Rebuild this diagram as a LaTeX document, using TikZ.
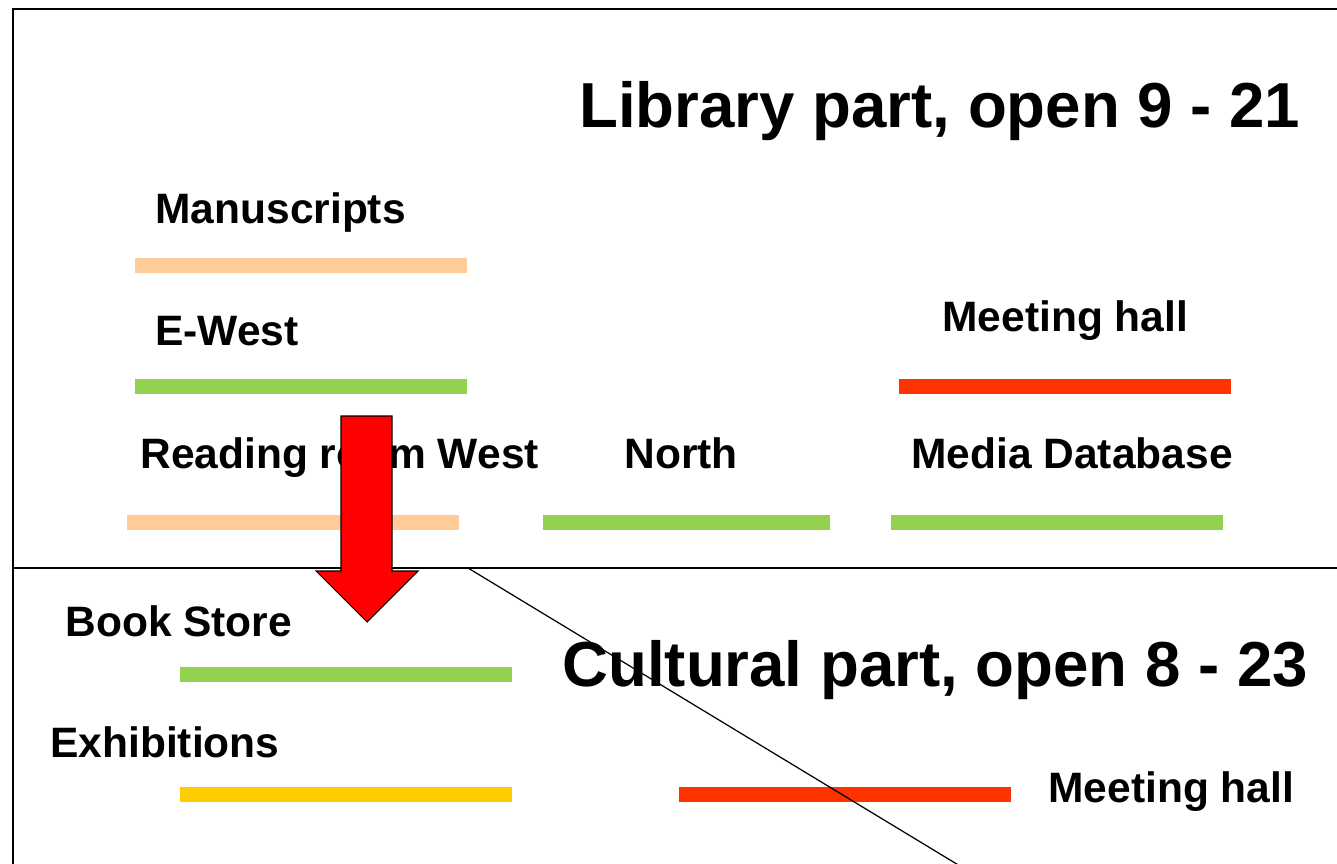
\documentclass[tikz,border=0pt]{standalone}
\usepackage{fontspec}
\setmainfont{Liberation Sans}
\definecolor{peach}{HTML}{FFCC99}
\definecolor{leaf}{HTML}{92D050}
\definecolor{flame}{HTML}{FF3300}
\definecolor{gold}{HTML}{FFCC00}
\tikzset{
  lbl/.style={anchor=base west,inner sep=0pt,font=\bfseries\fontsize{24.2pt}{26pt}\selectfont},
  ttl/.style={anchor=base west,inner sep=0pt,font=\bfseries\fontsize{36.2pt}{40pt}\selectfont},
  bar/.style={line width=0.3cm}
}
\begin{document}
\begin{tikzpicture}[x=0.02cm,y=-0.02cm]
\useasboundingbox (0,0) rectangle (1337,864);
\clip (0,0) rectangle (1337,864);
\fill[white] (0,0) rectangle (1337,864);

\draw[line width=1.4pt] (1345,9) -- (13,9) -- (13,870);
\draw[line width=1pt] (13,568) -- (1345,568);

% library part
\node[ttl] (libtitle) at (579,128) {Library part, open 9 - 21};
\node[lbl] (manu) at (155,224) {Manuscripts};
\draw[bar,peach] (135,265.5) -- (467,265.5);
\node[lbl] (ewest) at (155,346) {E-West};
\draw[bar,leaf] (135,386.5) -- (467,386.5);
\node[lbl] (meet) at (942,332) {Meeting hall};
\draw[bar,flame] (899,386.5) -- (1231,386.5);
\node[lbl] (read) at (140,468) {Reading room West};
\draw[bar,peach] (127,522.5) -- (459,522.5);
\node[lbl] (north) at (624,468) {North};
\draw[bar,leaf] (543,522.5) -- (830,522.5);
\node[lbl] (media) at (911,468) {Media Database};
\draw[bar,leaf] (891,522.5) -- (1223,522.5);

% arrow down
\draw[fill=red,line width=0.6pt,line join=miter] (341,416) -- (392,416) -- (392,571) -- (418,571)
  -- (367,622) -- (316,571) -- (341,571) -- cycle;

% cultural part
\node[lbl] (book) at (65,636) {Book Store};
\draw[bar,leaf] (180,674.5) -- (512,674.5);
\node[ttl] (cultitle) at (562,686) {Cultural part, open 8 - 23};
\node[lbl] (exhib) at (50,757) {Exhibitions};
\draw[bar,gold] (180,794.5) -- (512,794.5);
\draw[bar,flame] (679,794.5) -- (1011,794.5);
\node[lbl] (meet2) at (1048,802) {Meeting hall};

\coordinate (cutA) at (468,568);
\coordinate (cutB) at (960,866);
\draw[line width=0.7pt] (cutA) -- (cutB);
\end{tikzpicture}
\end{document}
